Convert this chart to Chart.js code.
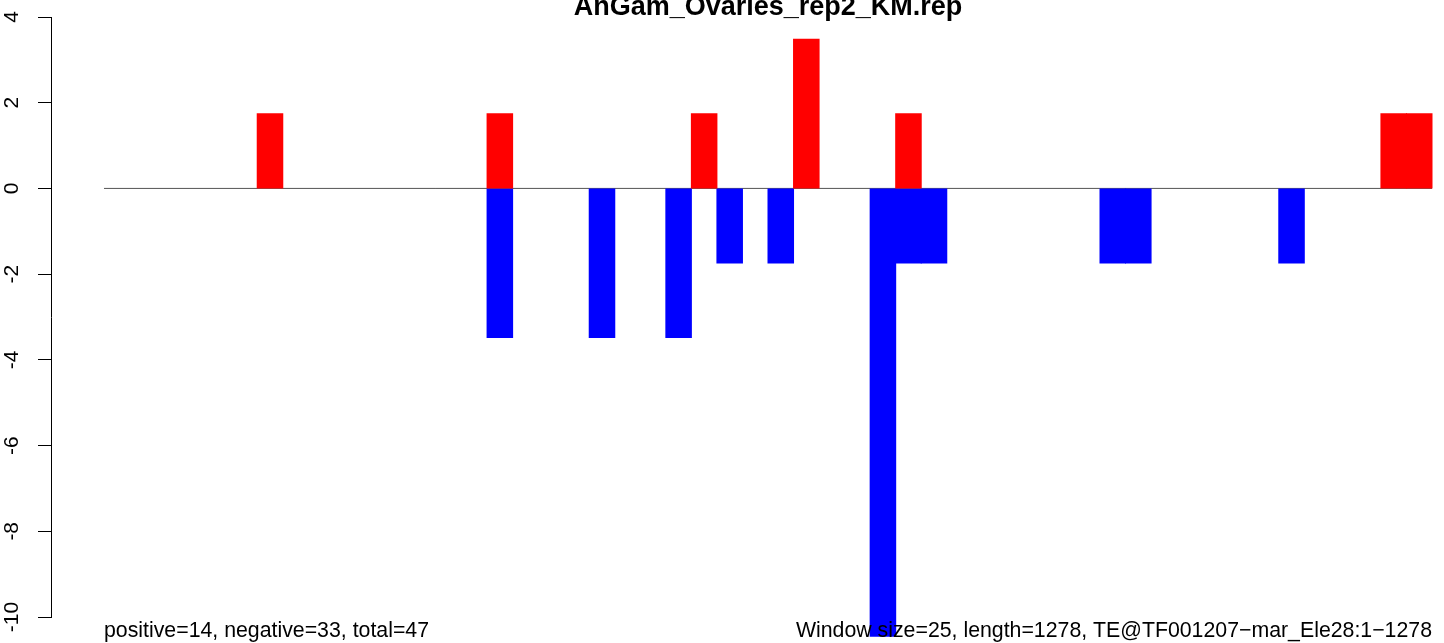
<!DOCTYPE html>
<html>
<head>
<meta charset="utf-8">
<title>AnGam_Ovaries_rep2_KM.rep</title>
<script src="https://cdn.jsdelivr.net/npm/chart.js@4/dist/chart.umd.min.js"></script>
<style>
  html, body { margin: 0; padding: 0; background: #fff; }
  #wrap { width: 1444px; height: 643px; position: relative; }
</style>
</head>
<body>
<div id="wrap"><canvas id="repChart"></canvas></div>
<script>
// data
var chartTitle = "AnGam_Ovaries_rep2_KM.rep";
var leftNote = "positive=14, negative=33, total=47";
var rightNote = "Window size=25, length=1278, TE@TF001207\u2212mar_Ele28:1\u22121278";

// window starts (window size 25, 52 windows over 1278 bp)
var windowStarts = [
  0, 25, 50, 75, 100, 125, 150, 175, 200, 225,
  250, 275, 300, 325, 350, 375, 400, 425, 450, 475,
  500, 525, 550, 575, 600, 625, 650, 675, 700, 725,
  750, 775, 800, 825, 850, 875, 900, 925, 950, 975,
  1000, 1025, 1050, 1075, 1100, 1125, 1150, 1175, 1200, 1225,
  1250, 1275
];
var windowEnd = 1300;

// null = empty window
var positiveVals = [
  null, null, null, null, null, null, 1.74, null, null, null,
  null, null, null, null, null, 1.74, null, null, null, null,
  null, null, null, 1.74, null, null, null, 3.48, null, null,
  null, 1.74, null, null, null, null, null, null, null, null,
  null, null, null, null, null, null, null, null, null, null,
  1.74, 1.74
];

var negativeVals = [
  null, null, null, null, null, null, null, null, null, null,
  null, null, null, null, null, -3.48, null, null, null, -3.48,
  null, null, -3.48, null, -1.74, null, -1.74, null, null, null,
  -10.45, -1.74, -1.74, null, null, null, null, null, null, -1.74,
  -1.74, null, null, null, null, null, -1.74, null, null, null,
  null, null
];

var yTicks = [-10, -8, -6, -4, -2, 0, 2, 4];

var fontFamily = '"Liberation Sans", Arial, Helvetica, sans-serif';

//title + bottom notes, drawn over the bars like R does
var notesPlugin = {
  id: "notes",
  afterDraw: function (chart) {
    var ctx = chart.ctx;
    var xs = chart.scales.x;
    var left = xs.getPixelForValue(windowStarts[0]);
    var right = xs.getPixelForValue(windowEnd);
    ctx.save();
    ctx.fillStyle = "#000";
    ctx.textBaseline = "alphabetic";
    ctx.font = "bold 27px " + fontFamily;
    ctx.textAlign = "center";
    ctx.fillText(chartTitle, (left + right) / 2, 15);
    ctx.font = "21.3px " + fontFamily;
    ctx.textAlign = "left";
    ctx.fillText(leftNote, left, 637);
    ctx.textAlign = "right";
    ctx.fillText(rightNote, right, 637);
    ctx.restore();
  }
};

var labels = windowStarts.map(function (s) { return s + 12.5; });

var ctx = document.getElementById("repChart").getContext("2d");
var repChart = new Chart(ctx, {
  type: "bar",
  data: {
    labels: labels,
    datasets: [
      {
        label: "positive",
        data: positiveVals,
        backgroundColor: "#ff0000",
        borderWidth: 0,
        inflateAmount: 0.5,
        categoryPercentage: 1,
        barPercentage: 1,
        clip: false,
        order: 1
      },
      {
        label: "negative",
        data: negativeVals,
        backgroundColor: "#0000ff",
        borderWidth: 0,
        inflateAmount: 0.5,
        categoryPercentage: 1,
        barPercentage: 1,
        clip: false,
        order: 1
      },
      {
        type: "line",
        label: "zero",
        data: [{ x: windowStarts[0], y: 0 }, { x: windowEnd, y: 0 }],
        borderColor: "#555555",
        borderWidth: 1,
        pointRadius: 0,
        order: 2
      }
    ]
  },
  options: {
    responsive: true,
    maintainAspectRatio: false,
    animation: false,
    layout: { padding: { left: 0, right: 12, top: 17, bottom: 26 } },
    plugins: {
      legend: { display: false },
      tooltip: { enabled: false },
      title: { display: false }
    },
    scales: {
      x: {
        type: "linear",
        stacked: true,
        offset: false,
        min: -51.88,
        max: windowEnd,
        display: false,
        ticks: { stepSize: 25, includeBounds: false },
        grid: { display: false }
      },
      y: {
        stacked: true,
        min: yTicks[0],
        max: yTicks[yTicks.length - 1],
        afterFit: function (scale) {
          scale.width = 51;
          scale.paddingTop = 0;
          scale.paddingBottom = 0;
        },
        border: { display: true, color: "#000", width: 1 },
        grid: {
          drawOnChartArea: false,
          drawTicks: true,
          tickLength: 13,
          color: "#000",
          lineWidth: 1
        },
        ticks: {
          stepSize: 2,
          minRotation: 90,
          maxRotation: 90,
          crossAlign: "center",
          padding: 11,
          color: "#000",
          font: { family: fontFamily, size: 21 }
        }
      }
    }
  },
  plugins: [notesPlugin]
});
</script>
</body>
</html>
